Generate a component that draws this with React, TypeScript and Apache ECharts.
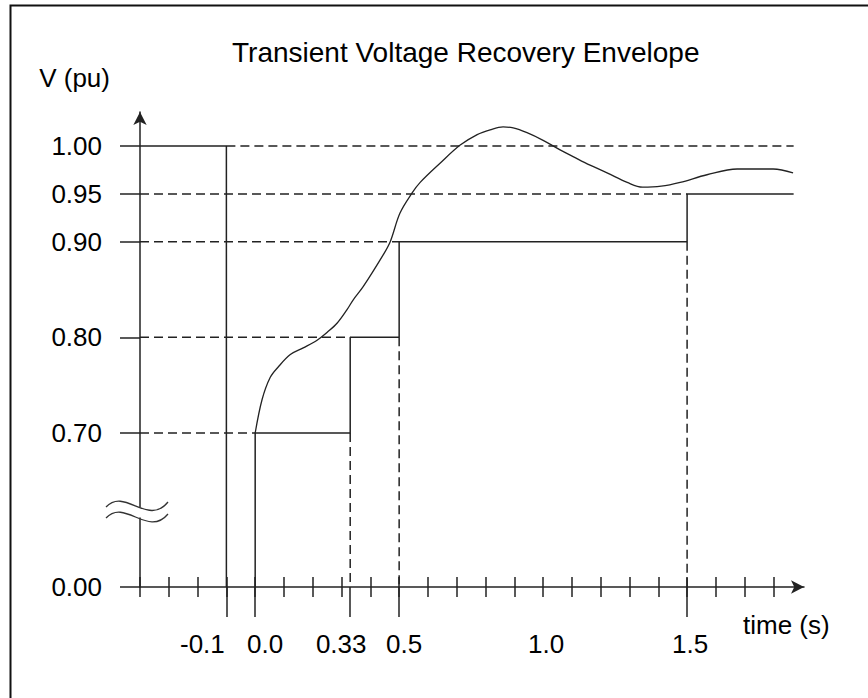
import React, { useEffect, useRef } from "react";
import * as echarts from "echarts";

// ---- data (values in pu / seconds) ----
const envelopeTimes = [0, 0.33, 0.5, 1.5];
const envelopeLevels = [0.7, 0.8, 0.9, 0.95];
const faultClearTime = -0.1;
const preFaultLevel = 1.0;
const recordEnd = 1.87;
const timeMin = -0.4;
const timeMax = 1.906;
const levelMax = 1.0356;

const responseTimes = [
  0, 0.024, 0.052, 0.08, 0.122, 0.167, 0.215, 0.253, 0.285, 0.319, 0.34, 0.375,
  0.444, 0.469, 0.503, 0.545, 0.573, 0.642, 0.712, 0.771, 0.816, 0.861, 0.896,
  0.944, 1.0, 1.059, 1.104, 1.163, 1.222, 1.292, 1.345, 1.41, 1.476, 1.569,
  1.674, 1.799, 1.868,
];
const responseLevels = [
  0.7, 0.735, 0.758, 0.769, 0.782, 0.789, 0.797, 0.806, 0.815, 0.829, 0.839, 0.853,
  0.886, 0.9, 0.93, 0.951, 0.962, 0.982, 1.001, 1.012, 1.017, 1.02, 1.019,
  1.014, 1.006, 0.996, 0.989, 0.98, 0.972, 0.962, 0.957, 0.958, 0.962, 0.97,
  0.976, 0.976, 0.972,
];

const yTickValues = [0, 0.7, 0.8, 0.9, 0.95, 1.0];
const yTickLabels = ["0.00", "0.70", "0.80", "0.90", "0.95", "1.00"];
const xLabelValues = [-0.1, 0, 0.33, 0.5, 1.0, 1.5];
const xLabelTexts = ["-0.1", "0.0", "0.33", "0.5", "1.0", "1.5"];
const xSmallTicks = [
  -0.4, -0.3, -0.2, -0.1, 0, 0.1, 0.2, 0.3, 0.4, 0.5, 0.6, 0.7, 0.8, 0.9, 1.0,
  1.1, 1.2, 1.3, 1.4, 1.5, 1.6, 1.7, 1.8,
];
const xLongTicks = [-0.1, 0, 0.33, 0.5, 1.5];

// axis break: 0.00 is drawn just below the 0.70 level
const ZERO_POS = 0.539;
const yDisp = (v: number) => (v === 0 ? ZERO_POS : v);

const INK = "#222";
const FONT = "'Liberation Sans', Arial, Helvetica, sans-serif";

export default function App() {
  const ref = useRef<HTMLDivElement>(null);
  useEffect(() => {
    if (!ref.current) return;
    const chart = echarts.init(ref.current, null, { renderer: "svg" });

    const solid = { color: INK, width: 1.5 };
    const dashed = { color: INK, width: 1.5, type: [9, 5] as any };
    const series: any[] = [];
    const addLine = (pts: number[][], style: any, extra: any = {}) =>
      series.push({
        type: "line",
        data: pts,
        symbol: "none",
        showSymbol: false,
        lineStyle: style,
        silent: true,
        ...extra,
      });

    // pre-fault level and fault clearing
    addLine(
      [
        [timeMin, preFaultLevel],
        [faultClearTime, preFaultLevel],
        [faultClearTime, yDisp(0)],
      ],
      solid
    );
    // envelope step
    const env: number[][] = [[envelopeTimes[0], yDisp(0)]];
    envelopeTimes.forEach((t, i) => {
      env.push([t, envelopeLevels[i]]);
      const next = i + 1 < envelopeTimes.length ? envelopeTimes[i + 1] : recordEnd;
      env.push([next, envelopeLevels[i]]);
    });
    addLine(env, solid);
    // dashed guides
    addLine([[faultClearTime, preFaultLevel], [recordEnd, preFaultLevel]], dashed);
    envelopeTimes.forEach((t, i) => {
      addLine([[timeMin, envelopeLevels[i]], [t, envelopeLevels[i]]], dashed);
      if (i > 0) addLine([[t, envelopeLevels[i - 1]], [t, yDisp(0)]], dashed);
    });
    // voltage response
    addLine(
      responseTimes.map((t, i) => [t, responseLevels[i]]),
      { color: INK, width: 1.3 },
      { smooth: 0.35 }
    );

    const xShift = [-24, 10, -9, 5, 3, 3];
    const rich: any = {};
    xShift.forEach((s, i) => {
      rich["s" + i] = {
        fontSize: 26,
        fontFamily: FONT,
        color: "#000",
        padding: s < 0 ? [0, -2 * s, 0, 0] : [0, 0, 0, 2 * s],
      };
    });

    const baseX = {
      type: "value",
      min: timeMin,
      max: timeMax,
      position: "bottom",
      splitLine: { show: false },
    };

    chart.setOption({
      animation: false,
      title: {
        text: "Transient Voltage Recovery Envelope",
        left: 232,
        top: 38,
        padding: 0,
        textStyle: { fontSize: 28, fontWeight: "normal", fontFamily: FONT, color: "#000" },
      },
      grid: { left: 140, top: 112, width: 664, height: 475, containLabel: false },
      xAxis: [
        {
          ...baseX,
          name: "time (s)",
          nameLocation: "end",
          nameGap: -61,
          nameTextStyle: {
            fontSize: 26,
            fontFamily: FONT,
            color: "#000",
            align: "left",
            verticalAlign: "top",
            padding: [25, 0, 0, 0],
          },
          axisLine: {
            show: true,
            onZero: false,
            symbol: ["none", "arrow"],
            symbolSize: [10, 13],
            lineStyle: solid,
          },
          axisTick: { show: true, customValues: xSmallTicks, length: 10, lineStyle: solid },
          axisLabel: {
            show: true,
            customValues: xLabelValues,
            margin: 44,
            formatter: (v: number) => {
              const i = xLabelValues.findIndex((x) => Math.abs(x - v) < 1e-6);
              return i < 0 ? "" : `{s${i}|${xLabelTexts[i]}}`;
            },
            rich,
          },
        },
        {
          ...baseX,
          axisLine: { show: false, onZero: false },
          axisTick: {
            show: true,
            inside: true,
            customValues: xSmallTicks,
            length: 10,
            lineStyle: solid,
          },
          axisLabel: { show: false },
        },
        {
          ...baseX,
          axisLine: { show: false, onZero: false },
          axisTick: { show: true, customValues: xLongTicks, length: 30, lineStyle: solid },
          axisLabel: { show: false },
        },
      ],
      yAxis: {
        type: "value",
        min: ZERO_POS,
        max: levelMax,
        name: "V (pu)",
        nameLocation: "end",
        nameGap: 21,
        nameTextStyle: {
          fontSize: 26,
          fontFamily: FONT,
          color: "#000",
          align: "right",
          verticalAlign: "bottom",
          padding: [0, 30, 0, 0],
        },
        splitLine: { show: false },
        axisLine: {
          show: true,
          onZero: false,
          symbol: ["none", "arrow"],
          symbolSize: [10, 13],
          lineStyle: solid,
        },
        axisTick: {
          show: true,
          customValues: yTickValues.map(yDisp),
          length: 20,
          lineStyle: solid,
        },
        axisLabel: {
          show: true,
          customValues: yTickValues.map(yDisp),
          margin: 38,
          padding: [0, 0, 12, 0],
          fontSize: 26,
          fontFamily: FONT,
          color: "#000",
          formatter: (v: number) => {
            const i = yTickValues.findIndex((y) => Math.abs(yDisp(y) - v) < 1e-6);
            return i < 0 ? "" : yTickLabels[i];
          },
        },
      },
      series,
      graphic: [
        {
          type: "rect",
          z: 100,
          shape: { x: 10.5, y: 5.5, width: 900, height: 800 },
          style: { fill: "none", stroke: "#111", lineWidth: 2 },
          silent: true,
        },
        {
          type: "rect",
          z: 100,
          shape: { x: 135, y: 507.5, width: 10, height: 10 },
          style: { fill: "#fff" },
          silent: true,
        },
        {
          type: "bezierCurve",
          z: 101,
          shape: { x1: 106, y1: 507, cpx1: 125, cpy1: 487, cpx2: 148, cpy2: 527, x2: 168, y2: 502 },
          style: { stroke: "#333", lineWidth: 1.3, fill: "none" },
          silent: true,
        },
        {
          type: "bezierCurve",
          z: 101,
          shape: { x1: 106, y1: 518, cpx1: 125, cpy1: 498, cpx2: 148, cpy2: 538, x2: 168, y2: 514 },
          style: { stroke: "#333", lineWidth: 1.3, fill: "none" },
          silent: true,
        },
      ],
    });
    return () => chart.dispose();
  }, []);
  return (
    <div
      ref={ref}
      style={{ position: "fixed", left: 0, top: 0, width: 868, height: 698, background: "#fff" }}
    />
  );
}
